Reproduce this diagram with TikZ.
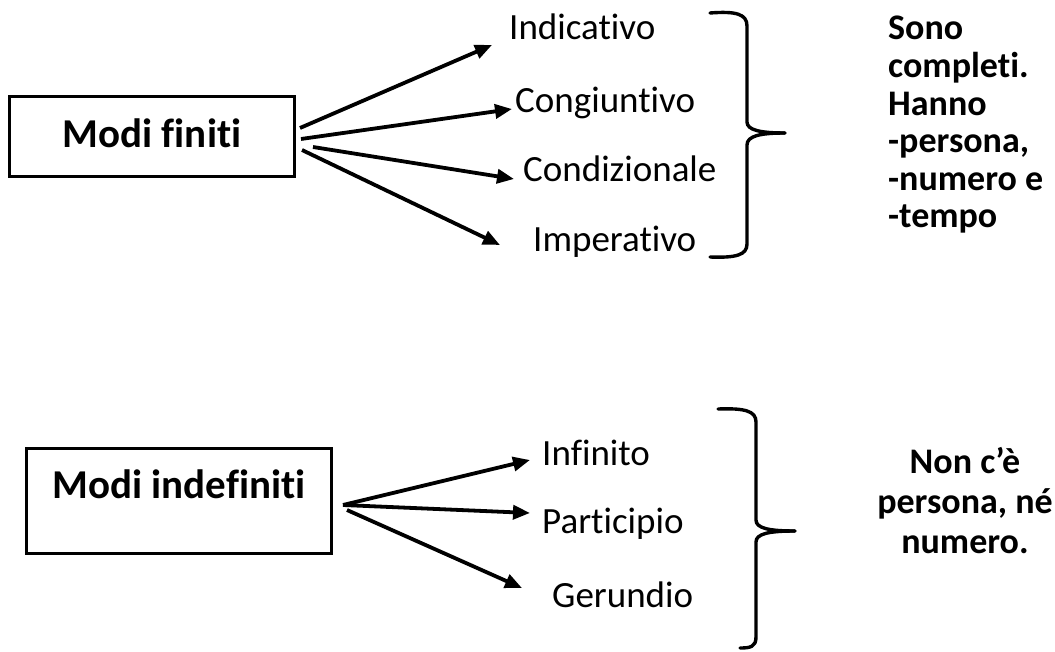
\documentclass[tikz,border=0pt]{standalone}
\usepackage{fontspec}
\setmainfont{Carlito}[Ligatures=NoCommon]
\usetikzlibrary{arrows.meta}
\tikzset{
  boxnode/.style={draw, line width=3pt, inner sep=0pt},
  lbl/.style={inner sep=0pt, anchor=base west, font=\fontsize{37}{44}\selectfont},
  boxtext/.style={inner sep=0pt, anchor=base, font=\fontsize{41}{49}\selectfont\bfseries},
  rtext/.style={inner sep=0pt, font=\fontsize{36}{38}\selectfont\bfseries},
  arr/.style={line width=3.8pt, -{Triangle[length=17pt,width=14pt]}},
  brace/.style={line width=3.4pt, line cap=round, line join=round}
}
\begin{document}
\begin{tikzpicture}[x=1pt,y=-1pt]
\useasboundingbox (0,0) rectangle (1055,652);
% upper group
\node[boxnode, minimum width=285pt, minimum height=80pt] (finiti) at (152,136.5) {};
\node[boxtext] (finititext) at (152,148) {Modi finiti};
\node[lbl] (ind) at (509,40) {Indicativo};
\node[lbl] (cong) at (515,113) {Congiuntivo};
\node[lbl] (cond) at (523,182) {Condizionale};
\node[lbl] (imp) at (533,252) {Imperativo};
\coordinate (s1) at (300,128);
\coordinate (s2) at (301,139);
\coordinate (s3) at (313,147);
\coordinate (s4) at (302,150);
\coordinate (e1) at (492,45);
\coordinate (e2) at (512,109);
\coordinate (e3) at (514,179);
\coordinate (e4) at (500,245);
\draw[arr] (s1) -- (e1);
\draw[arr] (s2) -- (e2);
\draw[arr] (s3) -- (e3);
\draw[arr] (s4) -- (e4);
\coordinate (bt1) at (710,13);
\coordinate (bm1) at (785,133);
\coordinate (bb1) at (710,257);
\draw[brace] (bt1) .. controls (736,11) and (747,14) .. (747,26) -- (747,122) .. controls (747,130) and (760,133) .. (bm1);
\draw[brace] (bm1) .. controls (760,133) and (747,136) .. (747,145) -- (747,244) .. controls (747,255) and (736,258) .. (bb1);
\node[rtext, anchor=base west] (r1) at (888,40) {Sono};
\node[rtext, anchor=base west] (r2) at (888,77.6) {completi.};
\node[rtext, anchor=base west] (r3) at (888,115.2) {Hanno};
\node[rtext, anchor=base west] (r4) at (888,152.8) {-persona,};
\node[rtext, anchor=base west] (r5) at (888,190.4) {-numero e};
\node[rtext, anchor=base west] (r6) at (888,228) {-tempo};
% lower group
\node[boxnode, minimum width=305pt, minimum height=105pt] (indef) at (179,501) {};
\node[boxtext] (indeftext) at (179,498) {Modi indefiniti};
\node[lbl] (inf) at (542,465) {Infinito};
\node[lbl] (part) at (542,533) {Participio};
\node[lbl] (ger) at (552,607) {Gerundio};
\coordinate (t1) at (343,505);
\coordinate (t3) at (347,510);
\coordinate (f1) at (530,460);
\coordinate (f2) at (530,513);
\coordinate (f3) at (522,588);
\draw[arr] (t1) -- (f1);
\draw[arr] (t1) -- (f2);
\draw[arr] (t3) -- (f3);
\coordinate (bt2) at (718,409);
\coordinate (bm2) at (795,531);
\coordinate (bb2) at (740,648);
\draw[brace] (bt2) .. controls (745,408) and (756,411) .. (756,422) -- (756,520) .. controls (756,528) and (768,531) .. (bm2);
\draw[brace] (bm2) .. controls (768,531) and (756,534) .. (756,542) -- (756,637) .. controls (756,647) and (750,648) .. (bb2);
\node[rtext, anchor=base] (n1) at (965,473) {Non c’è};
\node[rtext, anchor=base] (n2) at (965,513) {persona, né};
\node[rtext, anchor=base] (n3) at (965,553) {numero.};
\end{tikzpicture}
\end{document}
